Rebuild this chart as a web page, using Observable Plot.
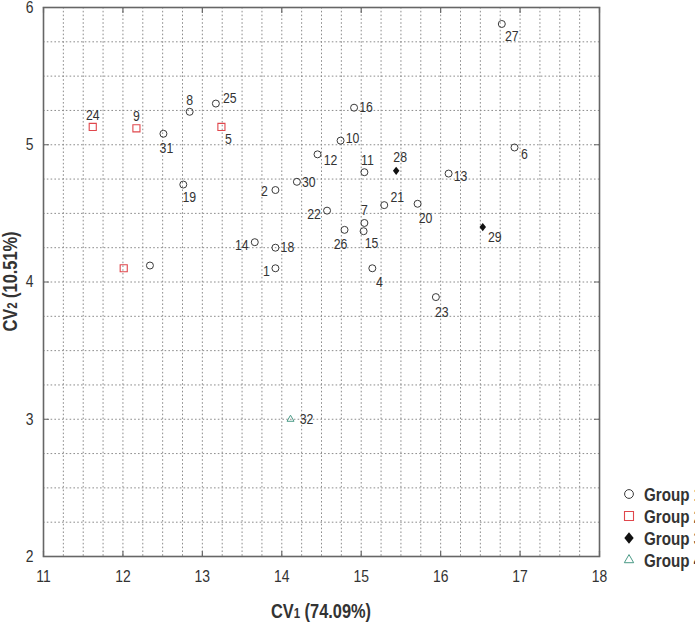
<!DOCTYPE html>
<html>
<head>
<meta charset="utf-8">
<script src="https://cdn.jsdelivr.net/npm/d3@7"></script>
<script src="https://cdn.jsdelivr.net/npm/@observablehq/plot@0.6"></script>
<style>
  html, body { margin: 0; padding: 0; background: #fff; }
  #chart svg { display: block; }
</style>
</head>
<body>
<div id="chart"></div>
<script>
// Canonical variate scores for the 32 specimens
const specimenIds = [1, 2, 3, 4, 5, 6, 7, 8, 9, 10, 11, 12, 13, 14, 15, 16,
                     17, 18, 19, 20, 21, 22, 23, 24, 25, 26, 27, 28, 29, 30, 31, 32];
const cv1Scores = [13.92, 13.92, 12.34, 15.14, 13.24, 16.93, 15.04, 12.84, 12.17, 14.74, 15.04, 14.45, 16.10, 13.66, 15.03, 14.91,
                   12.01, 13.92, 12.76, 15.71, 15.29, 14.57, 15.94, 11.62, 13.17, 14.79, 16.77, 15.44, 16.53, 14.19, 12.51, 14.11];
const cv2Scores = [4.10, 4.67, 4.12, 4.10, 5.13, 4.98, 4.43, 5.24, 5.12, 5.03, 4.80, 4.93, 4.79, 4.29, 4.37, 5.27,
                   4.10, 4.25, 4.71, 4.57, 4.56, 4.52, 3.89, 5.13, 5.30, 4.38, 5.88, 4.81, 4.40, 4.73, 5.08, 3.00];
const groupOf   = [1, 1, 1, 1, 2, 1, 1, 1, 2, 1, 1, 1, 1, 1, 1, 1,
                   2, 1, 1, 1, 1, 1, 1, 2, 1, 1, 1, 3, 3, 1, 1, 4];
// specimens plotted without a number beside them
const unlabeledIds = [3, 17];

const groupNames = ["Group 1", "Group 2", "Group 3", "Group 4"];
const xTicks = [11, 12, 13, 14, 15, 16, 17, 18];
const yTicks = [2, 3, 4, 5, 6];
const xTitle = ["CV", "1", " (74.09%)"];
const yTitle = ["CV", "2", " (10.51%)"];

// Label nudges (pixels) so the numbers sit clear of their markers
const labelNudge = {
  1: [-9, 3], 2: [-11, 1], 4: [7, 14], 5: [7, 12], 6: [10, 7], 7: [0, -13],
  8: [0, -12], 9: [0, -12], 10: [12, -2], 11: [3, -12], 12: [13, 6], 13: [12, 3],
  14: [-13, 3], 15: [8, 12], 16: [12, 0], 18: [12, 0], 19: [6, 13], 20: [8, 14],
  21: [13, -8], 22: [-13, 4], 23: [6, 15], 24: [0, -12], 25: [14, -5], 26: [-4, 14],
  27: [10, 12], 28: [4, -14], 29: [12, 10], 30: [12, 0], 31: [3, 14], 32: [16, 0]
};

const rows = specimenIds.map((id, i) => ({id, cv1: cv1Scores[i], cv2: cv2Scores[i], group: groupOf[i]}));

// Arial-metric face, narrowed horizontally below
const FONT = "'Liberation Sans', Arial, sans-serif";
const NARROW = 0.82;

// slightly tall diamond
const tallDiamond = {
  draw(ctx, size) {
    const a = Math.sqrt(size / 1.6), b = 0.8 * a;
    ctx.moveTo(0, -a); ctx.lineTo(b, 0); ctx.lineTo(0, a); ctx.lineTo(-b, 0); ctx.closePath();
  }
};

// straight tick stroke for the inward frame ticks
const tickShape = {
  draw(ctx, l) { ctx.moveTo(0, 0); ctx.lineTo(0, -l); }
};

const groupStyle = {
  1: {symbol: "circle",   r: 3.5, stroke: "#3a3a3a", fill: "none", strokeWidth: 1},
  2: {symbol: "square",   r: 4.0, stroke: "#e0474c", fill: "none", strokeWidth: 1.1},
  3: {symbol: tallDiamond, r: 2.9, stroke: "none",   fill: "#111",  strokeWidth: 0},
  4: {symbol: "triangle", r: 2.6, stroke: "#4a9a86", fill: "none", strokeWidth: 1}
};

const gridX = d3.range(11.25, 18, 0.25);
const gridY = d3.range(2.25, 6, 0.25);

const dotMarks = [1, 2, 3, 4].map(g => Plot.dot(rows.filter(d => d.group === g), {
  x: "cv1", y: "cv2", ...groupStyle[g]
}));

const labelMarks = rows
  .filter(d => !unlabeledIds.includes(d.id))
  .map(d => Plot.text([d], {
    x: "cv1", y: "cv2", text: d => String(d.id),
    dx: labelNudge[d.id][0], dy: labelNudge[d.id][1],
    fill: "#333", fontSize: 15
  }));

const [xMin, xMax] = [xTicks[0], xTicks[xTicks.length - 1]];
const [yMin, yMax] = [yTicks[0], yTicks[yTicks.length - 1]];
const tickStyle = {length: 5, shape: tickShape, anchor: "start", stroke: "#666", strokeWidth: 1.2};
const frameTicks = [
  Plot.vector(xTicks, {x: d => d, y: yMin, rotate: 0, ...tickStyle}),
  Plot.vector(xTicks, {x: d => d, y: yMax, rotate: 180, ...tickStyle}),
  Plot.vector(yTicks, {x: xMin, y: d => d, rotate: 90, ...tickStyle}),
  Plot.vector(yTicks, {x: xMax, y: d => d, rotate: 270, ...tickStyle})
];

const W = 695, H = 624;
const M = {top: 7, right: 96, bottom: 68, left: 43};

const plot = Plot.plot({
  width: W, height: H,
  marginTop: M.top, marginRight: M.right, marginBottom: M.bottom, marginLeft: M.left,
  style: {fontFamily: FONT, fontSize: "15px", color: "#333", background: "#fff"},
  x: {domain: [xMin, xMax]},
  y: {domain: [yMin, yMax]},
  marks: [
    Plot.ruleX(gridX, {stroke: "#8c8c8c", strokeDasharray: "1.6,2.2", strokeWidth: 1}),
    Plot.ruleY(gridY, {stroke: "#8c8c8c", strokeDasharray: "1.6,2.2", strokeWidth: 1}),
    Plot.axisX({ticks: xTicks, tickFormat: d => String(d), tickSize: 0, tickPadding: 13, fontSize: 17, label: null, fill: "#333"}),
    Plot.axisY({ticks: yTicks, tickFormat: d => String(d), tickSize: 0, tickPadding: 10, fontSize: 17, label: null, fill: "#333"}),
    ...frameTicks,
    Plot.frame({stroke: "#666", strokeWidth: 1.6}),
    ...dotMarks,
    ...labelMarks
  ]
});

const svg = d3.select(plot);
const cx = (M.left + (W - M.right)) / 2;
const cy = (M.top + (H - M.bottom)) / 2;

// axis titles with the small index digit
function title(sel, parts) {
  sel.attr("font-family", FONT).attr("font-weight", "bold").attr("font-size", 20)
     .attr("fill", "#333").attr("text-anchor", "middle");
  sel.append("tspan").text(parts[0]);
  sel.append("tspan").attr("font-size", 14).text(parts[1]);
  sel.append("tspan").text(parts[2]);
}
title(svg.append("text").attr("transform", `translate(${cx},618)`), xTitle);
title(svg.append("text").attr("transform", `translate(17,${cy}) rotate(-90)`), yTitle);

// legend
const legendSymbols = [d3.symbolCircle, d3.symbolSquare, tallDiamond, d3.symbolTriangle];
const legendSizes = [Math.PI * 4.4 * 4.4, 81, 55, 38];
const legend = svg.append("g").attr("transform", "translate(629,494)");
groupNames.forEach((name, i) => {
  const st = groupStyle[i + 1];
  const row = legend.append("g").attr("transform", `translate(0,${i * 22})`);
  row.append("path")
    .attr("d", d3.symbol(legendSymbols[i], legendSizes[i])())
    .attr("fill", st.fill).attr("stroke", st.stroke).attr("stroke-width", st.strokeWidth || null);
  row.append("text").attr("transform", "translate(15,6.5)").attr("text-anchor", "start")
    .attr("font-family", FONT).attr("font-weight", "bold").attr("font-size", 18.5)
    .attr("fill", "#333").text(name);
});

// condense every text horizontally about its own anchor point
svg.selectAll("text").each(function () {
  const t = d3.select(this);
  const x = +t.attr("x") || 0, y = +t.attr("y") || 0;
  const prev = t.attr("transform") || "";
  t.attr("transform", `${prev} translate(${x},${y}) scale(${NARROW},1) translate(${-x},${-y})`);
});

document.getElementById("chart").append(plot);
</script>
</body>
</html>
